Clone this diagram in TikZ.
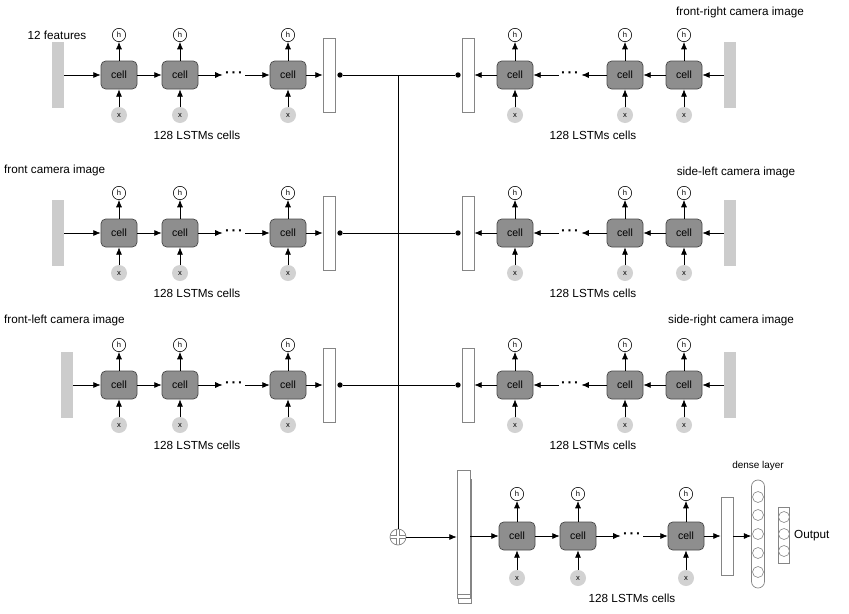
\documentclass[tikz,border=0pt]{standalone}
\usepackage{fontspec}
\setmainfont{Liberation Sans}
\usepackage{tikz}
\usetikzlibrary{arrows.meta,shadows}

\definecolor{cellgray}{HTML}{8E8E8E}
\definecolor{cellline}{HTML}{4A4A4A}
\definecolor{bargray}{HTML}{CCCCCC}
\definecolor{xgray}{HTML}{D2D2D2}
\definecolor{boxline}{HTML}{858585}

\newcommand{\celldots}{\textbf{·\hspace{1.6pt}·\hspace{1.6pt}·}}

\tikzset{
  lstm/.style={draw=cellline, fill=cellgray, rounded corners=4pt, minimum width=1.08cm, minimum height=0.84cm, inner sep=0pt, line width=0.6pt, font=\fontsize{9}{10}\selectfont},
  hout/.style={shape=circle, draw=black, fill=white, minimum size=0.4cm, inner sep=0pt, line width=0.5pt, font=\fontsize{6.5}{7}\selectfont},
  xin/.style={shape=circle, fill=xgray, minimum size=0.48cm, inner sep=0pt, font=\fontsize{6.5}{7}\selectfont},
  inbar/.style={fill=bargray, minimum width=0.36cm, minimum height=1.98cm, inner sep=0pt},
  seqbox/.style={draw=boxline, fill=white, minimum width=0.36cm, minimum height=2.22cm, inner sep=0pt, line width=0.6pt},
  junc/.style={shape=circle, fill=black, minimum size=0.16cm, inner sep=0pt},
  unit/.style={shape=circle, draw=boxline, fill=white, minimum size=0.33cm, inner sep=0pt, line width=0.5pt},
  skip/.style={inner sep=2pt, font=\fontsize{12}{12}\selectfont},
  oplus/.style={shape=circle, draw=boxline, fill=white, minimum size=0.48cm, inner sep=0pt, line width=0.6pt,
    path picture={\draw[boxline, line width=3.2pt] (path picture bounding box.north) -- (path picture bounding box.south)
      (path picture bounding box.west) -- (path picture bounding box.east);
      \draw[white, line width=1.8pt] (path picture bounding box.north) -- (path picture bounding box.south)
      (path picture bounding box.west) -- (path picture bounding box.east);}},
  arr/.style={-{Latex[width=1.8mm,length=2.2mm]}, line width=0.6pt},
  lab/.style={font=\fontsize{10}{12}\selectfont, inner sep=0pt},
}

\begin{document}
\begin{tikzpicture}[x=0.03cm, y=-0.03cm]
    \useasboundingbox (0,0) rectangle (849,613);

    % left chains
    \foreach \i/\y/\bx in {1/75/58, 2/233/58, 3/385/67} {
        \node[inbar] (l\i-in) at (\bx,\y) {};
        \foreach \k/\cx in {1/119, 2/180, 3/288} {
            \node[lstm] (l\i-c\k) at (\cx,\y) {cell};
            \node[hout] (l\i-h\k) at (\cx,\y-40) {h};
            \node[xin] (l\i-x\k) at (\cx,\y+40) {x};
            \draw[arr] (l\i-c\k) -- (l\i-h\k);
            \draw[arr] (l\i-x\k) -- (l\i-c\k);
        }
        \node[skip] (l\i-d) at (234,\y) {\celldots};
        \node[seqbox] (l\i-out) at (329,\y) {};
        \node[junc] (l\i-j) at (340,\y) {};
        \node[lab] at (197,\y+60) {128 LSTMs cells};
        \draw[arr] (l\i-in) -- (l\i-c1);
        \draw[arr] (l\i-c1) -- (l\i-c2);
        \draw[arr] (l\i-c2) -- (l\i-d);
        \draw[arr] (l\i-d) -- (l\i-c3);
        \draw[arr] (l\i-c3) -- (l\i-out);
    }

    % right chains
    \foreach \i/\y in {1/75, 2/233, 3/385} {
        \node[inbar] (r\i-in) at (730,\y) {};
        \foreach \k/\cx in {1/515, 2/625, 3/684} {
            \node[lstm] (r\i-c\k) at (\cx,\y) {cell};
            \node[hout] (r\i-h\k) at (\cx,\y-40) {h};
            \node[xin] (r\i-x\k) at (\cx,\y+40) {x};
            \draw[arr] (r\i-c\k) -- (r\i-h\k);
            \draw[arr] (r\i-x\k) -- (r\i-c\k);
        }
        \node[skip] (r\i-d) at (570,\y) {\celldots};
        \node[seqbox] (r\i-out) at (468,\y) {};
        \node[junc] (r\i-j) at (458,\y) {};
        \node[lab] at (593,\y+60) {128 LSTMs cells};
        \draw[arr] (r\i-in) -- (r\i-c3);
        \draw[arr] (r\i-c3) -- (r\i-c2);
        \draw[arr] (r\i-c2) -- (r\i-d);
        \draw[arr] (r\i-d) -- (r\i-c1);
        \draw[arr] (r\i-c1) -- (r\i-out);
        \draw[line width=0.6pt] (l\i-j) -- (r\i-j);
    }

    \node[lab] (t0) at (57,35) {12 features};
    \node[lab, anchor=west] (t1) at (4,170) {front camera image};
    \node[lab, anchor=west] (t2) at (4,320) {front-left camera image};
    \node[lab] (t3) at (740,12) {front-right camera image};
    \node[lab] (t4) at (736,172) {side-left camera image};
    \node[lab] (t5) at (731,320) {side-right camera image};

    % merge and final chain
    \coordinate (split) at (398,75);
    \node[oplus] (sum) at (398,537) {};
    \draw[line width=0.6pt] (split) -- (sum);
    \node[seqbox, minimum width=0.39cm, minimum height=3.72cm, double copy shadow={shadow xshift=0.5pt, shadow yshift=-4pt}] (cat) at (463.5,532) {};
    \draw[arr] (sum) -- (sum -| cat.west);

    \foreach \k/\cx in {1/517, 2/578, 3/686} {
        \node[lstm] (b-c\k) at (\cx,536) {cell};
        \node[hout] (b-h\k) at (\cx,494) {h};
        \node[xin] (b-x\k) at (\cx,578) {x};
        \draw[arr] (b-c\k) -- (b-h\k);
        \draw[arr] (b-x\k) -- (b-c\k);
    }
    \node[skip] (b-d) at (632,536) {\celldots};
    \node[lab] at (632,598) {128 LSTMs cells};
    \draw[arr] (cat.east |- b-c1) -- (b-c1);
    \draw[arr] (b-c1) -- (b-c2);
    \draw[arr] (b-c2) -- (b-d);
    \draw[arr] (b-d) -- (b-c3);

    \node[seqbox, minimum height=2.34cm] (flat) at (727,536) {};
    \draw[arr] (b-c3) -- (flat);

    % dense layer and output
    \node[draw=boxline, fill=white, rounded corners=5.5pt, minimum width=0.39cm, minimum height=3.24cm, inner sep=0pt, line width=0.6pt] (dense) at (758,534) {};
    \foreach \n/\cy in {1/497, 2/515, 3/534, 4/553, 5/572}
        \node[unit] (u\n) at (758,\cy) {};
    \draw[arr] (flat) -- (flat -| dense.west);
    \node[font=\fontsize{8.5}{10}\selectfont, inner sep=0pt] (dl) at (758,466) {dense layer};

    \node[draw=boxline, fill=white, minimum width=0.33cm, minimum height=1.68cm, inner sep=0pt, line width=0.6pt] (outbox) at (784,535) {};
    \foreach \n/\cy in {1/517, 2/534, 3/551}
        \node[unit] (o\n) at (784,\cy) {};
    \node[lab, anchor=west] (ol) at (794,536) {Output};
\end{tikzpicture}
\end{document}
